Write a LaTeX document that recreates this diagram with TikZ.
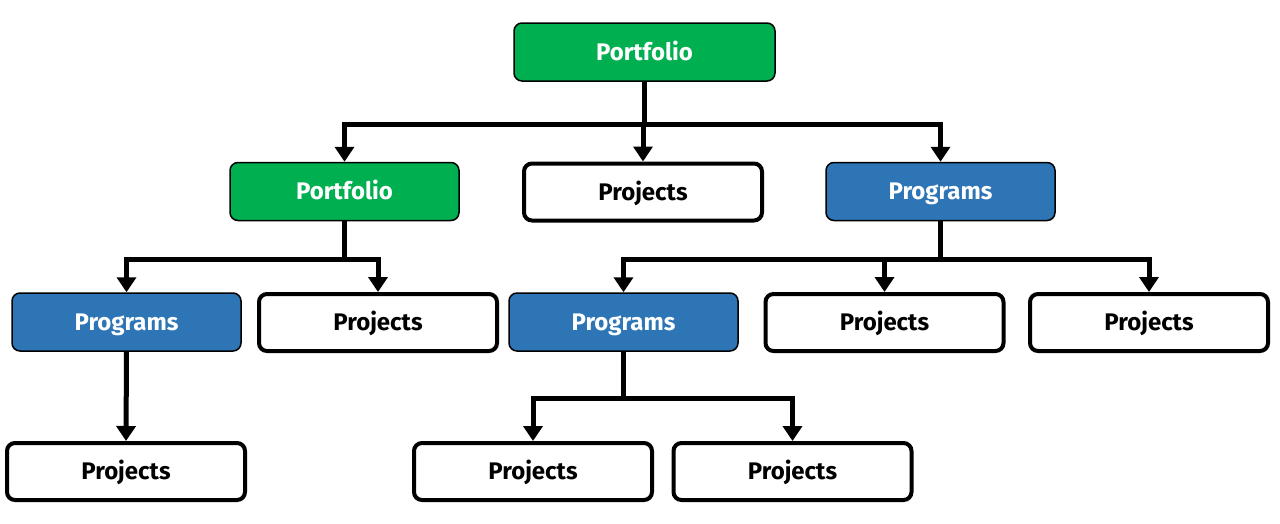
\documentclass[tikz,border=0pt]{standalone}
\usepackage{fontspec}
\setmainfont{Fira Sans}
\usetikzlibrary{arrows.meta}
\definecolor{pgreen}{HTML}{00B050}
\definecolor{pblue}{HTML}{2E75B6}
\tikzset{
  base/.style={rounded corners=8pt, minimum height=58pt, inner sep=0pt, text height=19pt, text depth=3pt, font=\fontsize{24}{28}\selectfont\bfseries},
  greenbox/.style={base, fill=pgreen, draw=black, line width=1.5pt, text=white, minimum width=229pt},
  bluebox/.style={base, fill=pblue, draw=black, line width=1.5pt, text=white, minimum width=229pt},
  whitebox/.style={base, fill=white, draw=black, line width=4pt, minimum width=238pt, minimum height=57pt},
  arr/.style={line width=5pt, -{Triangle[length=15pt,width=19pt]}}
}
\begin{document}
\begin{tikzpicture}[x=1pt,y=-1pt]
\useasboundingbox (0,0) rectangle (1280,523);
% level 1
\node[greenbox, minimum width=261pt] (top) at (644.5,52) {Portfolio};
% level 2
\node[greenbox] (pf2) at (344.5,191.5) {Portfolio};
\node[whitebox] (pj2) at (643,192) {Projects};
\node[bluebox] (pg2) at (940.5,191.5) {Programs};
% level 3
\node[bluebox] (pgA) at (126.5,322) {Programs};
\node[whitebox] (pjA) at (378,322.5) {Projects};
\node[bluebox] (pgB) at (623.5,322) {Programs};
\node[whitebox] (pjB) at (884.5,322.5) {Projects};
\node[whitebox] (pjC) at (1149,322.5) {Projects};
% level 4
\node[whitebox] (pjD) at (126,471.5) {Projects};
\node[whitebox] (pjE) at (533,471.5) {Projects};
\node[whitebox] (pjF) at (792.5,471.5) {Projects};
% connectors
\coordinate (j1) at (0,124);
\coordinate (j2) at (0,259);
\coordinate (j3) at (0,398);
\foreach \t in {pf2,pj2,pg2}{\draw[arr] (top.south) -- (top.south |- j1) -| (\t.north);}
\foreach \t in {pgA,pjA}{\draw[arr] (pf2.south) -- (pf2.south |- j2) -| (\t.north);}
\foreach \t in {pgB,pjB,pjC}{\draw[arr] (pg2.south) -- (pg2.south |- j2) -| (\t.north);}
\draw[arr] (pgA.south) -- (pjD.north);
\foreach \t in {pjE,pjF}{\draw[arr] (pgB.south) -- (pgB.south |- j3) -| (\t.north);}
\end{tikzpicture}
\end{document}
